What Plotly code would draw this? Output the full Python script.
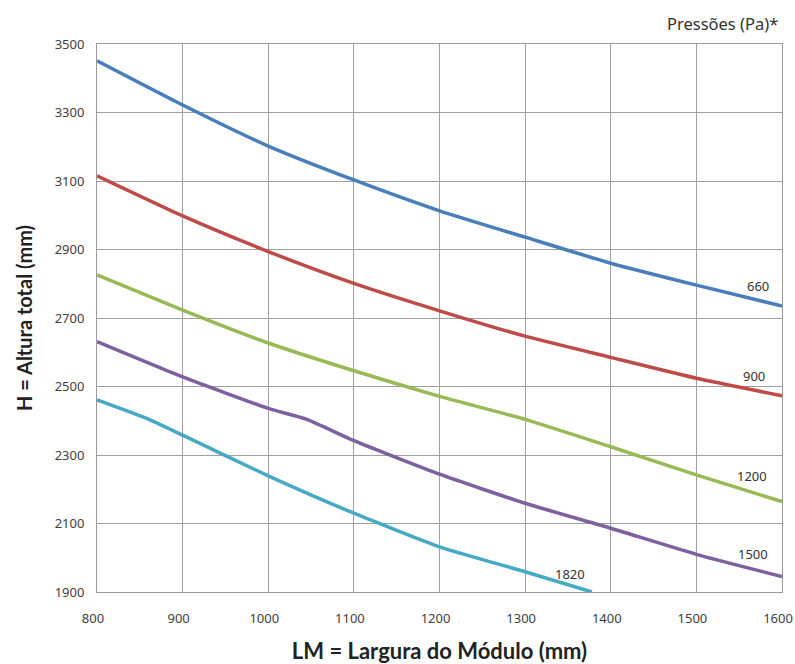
import plotly.graph_objects as go

# Data
lm = [800, 900, 1000, 1100, 1200, 1300, 1400, 1500, 1600]
h_660 = [3451, 3322, 3202, 3103, 3013, 2936, 2860, 2796, 2735]
h_900 = [3115, 2998, 2894, 2801, 2721, 2647, 2585, 2524, 2473]
h_1200 = [2826, 2723, 2627, 2546, 2471, 2404, 2324, 2242, 2164]
lm_1500 = [800, 900, 1000, 1045, 1100, 1200, 1300, 1400, 1500, 1600]
h_1500 = [2631, 2528, 2436, 2404, 2342, 2244, 2159, 2086, 2010, 1945]
lm_1820 = [800, 858, 900, 1000, 1100, 1200, 1300, 1378]
h_1820 = [2461, 2407, 2358, 2239, 2130, 2032, 1959, 1900]

series_names = ["660", "900", "1200", "1500", "1820"]
series_x = [lm, lm, lm, lm_1500, lm_1820]
series_y = [h_660, h_900, h_1200, h_1500, h_1820]
colors = ["#4A7EBB", "#BE4B48", "#98B954", "#7D60A0", "#46AAC5"]

# label positions (data coords)
label_x = [1572, 1567, 1565, 1566, 1352]
label_y = [2794, 2531, 2239, 2010, 1954]

x_ticks = [800, 900, 1000, 1100, 1200, 1300, 1400, 1500, 1600]
y_ticks = [1900, 2100, 2300, 2500, 2700, 2900, 3100, 3300, 3500]

NUM_FONT = "Noto Sans"
TXT_FONT = "Noto Sans"

fig = go.Figure()
for name, xs, ys, c in zip(series_names, series_x, series_y, colors):
    fig.add_trace(go.Scatter(x=xs, y=ys, mode="lines", name=name,
                             line=dict(color=c, width=3.5, shape="spline", smoothing=0.5),
                             showlegend=False, hoverinfo="skip"))

for name, lx, ly in zip(series_names, label_x, label_y):
    fig.add_annotation(x=lx, y=ly, text=name, showarrow=False,
                       font=dict(family=NUM_FONT, size=13, color="#333333"))

fig.add_annotation(xref="paper", yref="paper", x=1, y=1, xanchor="right",
                   yanchor="middle", xshift=-2, yshift=21, text="Pressões (Pa)*",
                   showarrow=False,
                   font=dict(family=TXT_FONT, size=16.5, color="#333333"))

axis_common = dict(showgrid=True, gridcolor="#A0A0A0", gridwidth=1,
                   showline=True, linecolor="#999999", linewidth=1, mirror=True,
                   zeroline=False, ticks="", automargin=False,
                   ticklabeloverflow="allow",
                   tickfont=dict(family=NUM_FONT, size=13, color="#404040"))

fig.update_xaxes(range=[800, 1600], tickvals=x_ticks,
                 ticklabelstandoff=14, ticklabelshift=-4,
                 title=dict(text="<b>LM = Largura do Módulo (mm)</b>",
                            font=dict(family="Lato", size=22, color="#222222"),
                            standoff=20),
                 **axis_common)
fig.update_yaxes(range=[1900, 3500], tickvals=y_ticks,
                 ticklabelstandoff=9,
                 title=dict(text="<b>H = Altura total (mm)</b>",
                            font=dict(family="Lato", size=20, color="#222222"),
                            standoff=16),
                 **axis_common)

fig.update_layout(width=795, height=664, plot_bgcolor="white", paper_bgcolor="white",
                  margin=dict(l=97, r=13, t=44, b=72), hovermode=False)

fig.write_html("out.html", config={"displayModeBar": False, "staticPlot": True},
               post_script="document.body.style.margin='0';document.body.style.overflow='hidden';")
